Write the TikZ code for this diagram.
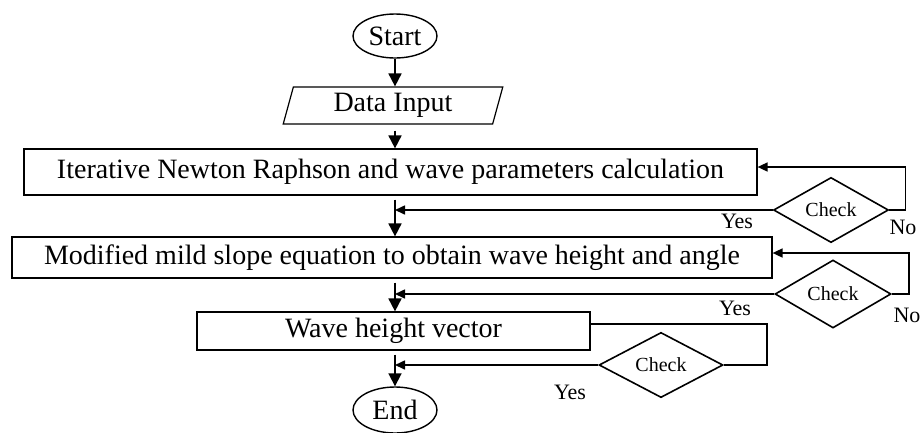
\documentclass[tikz,border=0pt]{standalone}
\usepackage{fontspec}
\setmainfont{Liberation Serif}
\usetikzlibrary{arrows.meta,calc,shapes.geometric}
\newcommand{\mainSize}{\fontsize{28}{30}\selectfont}
\newcommand{\chkSize}{\fontsize{20}{22}\selectfont}
\newcommand{\lblSize}{\fontsize{22}{24}\selectfont}

\begin{document}
\begin{tikzpicture}[
  x=1pt, y=-1pt,
  term/.style={
    ellipse, draw, line width=1.4pt, minimum width=84pt,
    minimum height=44pt, inner sep=0pt, font=\mainSize
  },
  io/.style={
    trapezium, trapezium left angle=76, trapezium right angle=104,
    trapezium stretches=true, draw, line width=1.2pt,
    minimum width=220pt, minimum height=37pt, inner sep=0pt, font=\mainSize
  },
  proc/.style={rectangle, draw, line width=1.2pt, inner sep=0pt, font=\mainSize},
  chk/.style={diamond, draw, line width=1.6pt, inner sep=0pt, font=\chkSize},
  flow/.style={-{Triangle[length=13pt,width=13pt]}, line width=1.8pt},
  back/.style={-{Triangle[length=10pt,width=9pt]}, line width=1.6pt},
  link/.style={line width=1.4pt},
  lbl/.style={font=\lblSize, inner sep=0pt}
]
\useasboundingbox (0,0) rectangle (924,432);

% ---- nodes ----------------------------------------------------------------
\node[term] (start) at (395,36) {Start};
\node[io]   (data)  at (393,105.5) {Data Input};
\node[proc, minimum width=733pt, minimum height=46pt] (iter) at (390.5,172)
  {Iterative Newton Raphson and wave parameters calculation};
\node[proc, minimum width=760pt, minimum height=41pt] (mod) at (392,257.5)
  {Modified mild slope equation to obtain wave height and angle};
\node[proc, minimum width=393pt, minimum height=38pt] (wave) at (393.5,331)
  {Wave height vector};
\node[term, minimum height=46pt] (end) at (395,410) {End};

\node[chk, minimum width=115pt, minimum height=64pt] (chk1) at (831,210) {Check};
\node[chk, minimum width=116pt, minimum height=68pt] (chk2) at (833,294) {Check};
\node[chk, minimum width=124pt, minimum height=57pt] (chk3) at (661,365) {Check};

\node[lbl] (yes1) at (737,221) {Yes};
\node[lbl] (no1)  at (903,227) {No};
\node[lbl] (yes2) at (735,308) {Yes};
\node[lbl] (no2)  at (907,315) {No};
\node[lbl] (yes3) at (570,392) {Yes};

% ---- main flow ------------------------------------------------------------
\draw[flow] (start.south) -- (start.south |- data.north);
\draw[flow] ($(data.south -| start.south)+(0,6)$) -- (start.south |- iter.north);
\draw[flow] ($(iter.south -| start.south)+(0,4)$) -- (start.south |- mod.north);
\draw[flow] ($(mod.south -| start.south)+(0,4)$) -- (start.south |- wave.north);
\draw[flow] ($(wave.south -| start.south)+(0,4)$) -- (end.north);

% ---- checks ---------------------------------------------------------------
\draw[back] (chk1.west) -- (chk1.west -| start.south);
\draw[back] (chk1.east) -- ++(16,0) |- ([yshift=5pt]iter.east);
\draw[back] (chk2.west) -- (chk2.west -| start.south);
\draw[back] (chk2.east) -- ++(17,0) |- ([yshift=4.5pt]mod.east);
\draw[link] ([yshift=7pt]wave.east) -| ($(chk3.east)+(43,0)$) -- (chk3.east);
\draw[back] (chk3.west) -- (chk3.west -| start.south);

\end{tikzpicture}
\end{document}
